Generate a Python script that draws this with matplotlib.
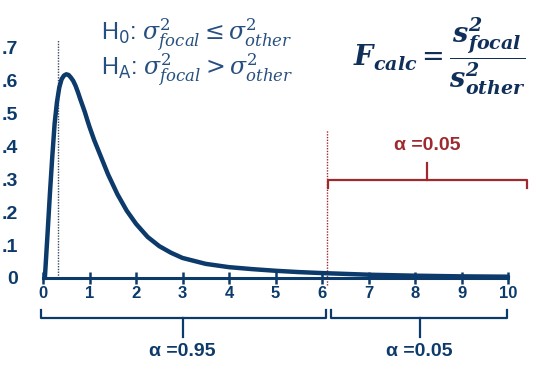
import matplotlib
matplotlib.use('Agg')
import matplotlib.pyplot as plt

plt.rcParams['font.family'] = ['Liberation Sans', 'DejaVu Sans']
plt.rcParams['mathtext.fontset'] = 'dejavuserif'

# F density, values
f_x = [0.04, 0.1, 0.15, 0.2, 0.25, 0.3, 0.35, 0.4, 0.45, 0.5, 0.55, 0.6, 0.65, 0.7,
       0.75, 0.8, 0.85, 0.9, 0.95, 1.0, 1.1, 1.2, 1.3, 1.4, 1.5, 1.6, 1.7, 1.8,
       1.9, 2.0, 2.25, 2.5, 2.75, 3.0, 3.5, 4.0, 4.5, 5.0, 5.5, 6.0, 7.0, 8.0,
       9.0, 10.0]
f_y = [0.0, 0.14, 0.26, 0.37, 0.47, 0.535, 0.58, 0.605, 0.616, 0.62, 0.618, 0.61,
       0.6, 0.585, 0.566, 0.545, 0.525, 0.505, 0.482, 0.46, 0.42, 0.385, 0.35,
       0.315, 0.285, 0.255, 0.23, 0.205, 0.185, 0.165, 0.125, 0.097, 0.077,
       0.061, 0.043, 0.033, 0.027, 0.022, 0.018, 0.015, 0.010, 0.007, 0.005, 0.004]

y_ticks = [0, 0.1, 0.2, 0.3, 0.4, 0.5, 0.6, 0.7]
y_labels = ['0', '.1', '.2', '.3', '.4', '.5', '.6', '.7']
x_ticks = list(range(11))

mode_x = 0.33
f_crit = 6.1
alpha_tail = 0.05
alpha_body = 0.95

navy = '#0c3a6b'
text_navy = '#264f80'
red = '#9e2a2f'

fig = plt.figure(figsize=(5.37, 3.68), dpi=100)
ax = fig.add_axes([43 / 537, 90 / 368, 465 / 537, 230 / 368])
ax.set_xlim(0, 10)
ax.set_ylim(0, 0.7)

ax.plot(f_x, f_y, color=navy, lw=3.2, solid_capstyle='round', solid_joinstyle='round',
        clip_on=False, zorder=4)

for s in ['top', 'right', 'left']:
    ax.spines[s].set_visible(False)
ax.spines['bottom'].set_color(navy)
ax.spines['bottom'].set_linewidth(2.2)

ax.set_xticks(x_ticks)
ax.set_xticklabels([str(t) for t in x_ticks], fontsize=12, fontweight='bold', color=navy)
ax.tick_params(axis='x', direction='inout', length=8, width=1.8, color=navy, pad=2)
ax.set_yticks(y_ticks)
ax.set_yticklabels(y_labels, fontsize=14, fontweight='bold', color=navy)
ax.tick_params(axis='y', length=0, pad=18)

# mode and critical value markers
ax.plot([mode_x, mode_x], [0, 0.723], color='#3a4a5e', lw=1.0, ls=(0, (1, 1)), clip_on=False)
ax.plot([f_crit, f_crit], [-0.02, 0.45], color=red, lw=1.0, ls=(0, (1, 1)), clip_on=False)


def brace(x0, x1, y, hook, xm, ym, color):
    ax.plot([x0, x0, x1, x1], [y + hook, y, y, y + hook], color=color, lw=1.6,
            clip_on=False, solid_joinstyle='round')
    ax.plot([xm, xm], [y, ym], color=color, lw=1.6, clip_on=False)


# rejection region on top
brace(f_crit + 0.02, 10.4, 0.298, -0.024, 8.26, 0.35, red)
ax.text(8.26, 0.404, f'α ={alpha_tail:.2f}', color=red, fontsize=14,
        fontweight='bold', ha='center', va='center', clip_on=False)

# areas under the axis
brace(-0.04, 6.08, -0.122, 0.025, 3.0, -0.18, navy)
brace(6.2, 9.98, -0.122, 0.025, 8.1, -0.18, navy)
ax.text(3.0, -0.225, f'α ={alpha_body:.2f}', color=navy, fontsize=14,
        fontweight='bold', ha='center', va='center', clip_on=False)
ax.text(8.1, -0.225, f'α ={alpha_tail:.2f}', color=navy, fontsize=14,
        fontweight='bold', ha='center', va='center', clip_on=False)

# hypotheses and test statistic
fig.text(101 / 537, 1 - 35 / 368, r'H$_{\mathsf{0}}$: $\sigma^2_{focal} \leq \sigma^2_{other}$',
         fontsize=17, color=text_navy, ha='left', va='center')
fig.text(101 / 537, 1 - 70 / 368, r'H$_{\mathsf{A}}$: $\sigma^2_{focal} > \sigma^2_{other}$',
         fontsize=17, color=text_navy, ha='left', va='center')
fig.text(439 / 537, 1 - 56 / 368,
         r'$\mathbfit{F_{calc}} = \dfrac{\mathbfit{s^2_{focal}}}{\mathbfit{s^2_{other}}}$',
         fontsize=19.5, color='#10305a', ha='center', va='center')

fig.savefig('out.png', dpi=100)
